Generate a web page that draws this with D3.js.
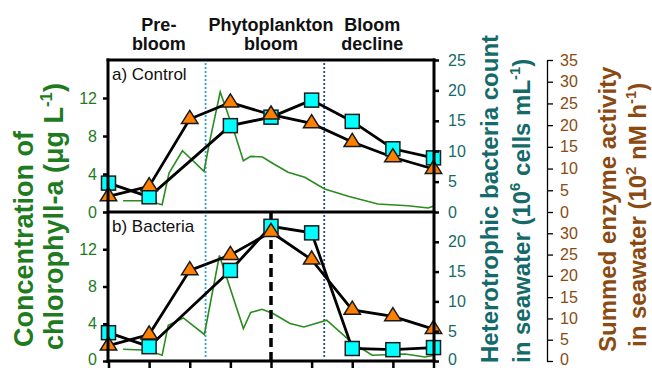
<!DOCTYPE html>
<html><head><meta charset="utf-8">
<script src="https://cdn.jsdelivr.net/npm/d3@7"></script>
<style>body{margin:0;background:#fff}svg{display:block;font-family:"Liberation Sans",Arial,sans-serif}</style>
</head><body><svg id="c" width="652" height="368"></svg>
<script>
// ---- data ----
const samples = [1, 2, 3, 4, 5, 6, 7, 8, 9];
const bacteriaControl = [4.75, 2.5, null, 14.2, 15.6, 18.4, 14.9, 10.4, 8.9];
const enzymeControl   = [3.6, 5.9, 21.4, 25.2, 22.4, 20.4, 16.1, 12.6, 9.9];
const bacteriaAdded   = [4.75, 2.4, null, 15.2, 22.6, 21.5, 2.1, 1.9, 2.25];
const enzymeAdded     = [3.6, 6.2, 21.3, 24.9, 30.3, 23.8, 12.0, 10.5, 7.5];
const chlTimeControl = [1.36, 1.96, 2.32, 2.49, 2.82, 3.35, 3.50, 3.75, 4.09, 4.32, 4.50, 4.79, 5.07, 5.42, 5.83, 6.32, 6.90, 7.63, 8.37, 8.87, 8.99];
const chlControl     = [1.19, 1.19, 0.77, 4.1, 6.45, 4.28, 7.61, 12.63, 8.49, 5.4, 5.86, 5.79, 5.05, 4.18, 3.65, 2.42, 1.65, 0.84, 0.66, 0.42, 0.6];
const chlTimeAdded = [1.36, 1.96, 2.32, 2.47, 2.84, 3.36, 3.73, 4.32, 4.50, 4.78, 5.05, 5.47, 5.81, 6.37, 6.98, 7.49, 8.30, 8.79, 9.0];
const chlAdded     = [1.26, 1.15, 0.61, 3.83, 4.62, 2.85, 11.33, 3.49, 5.21, 5.55, 5.10, 4.03, 3.65, 4.38, 2.04, 0.62, 0.75, 0.43, 0.59];
const phaseNames = [["Pre-", "bloom"], ["Phytoplankton", "bloom"], ["Bloom", "decline"]];
const phaseCenters = [2.24, 5.0, 7.49];
const phaseBounds = [3.39, 6.31];
const peakSample = 5;
const panelNames = ["a) Control", "b) Bacteria"];
const chlTicks = [0, 4, 8, 12];
const bacTicksA = [0, 5, 10, 15, 20, 25];
const bacTicksB = [0, 5, 10, 15, 20];
const enzTicksA = [0, 5, 10, 15, 20, 25, 30, 35];
const enzTicksB = [0, 5, 10, 15, 20, 25, 30];

// ---- styles ----
const GREEN = "#1e7b1e", TEAL = "#146a6a", BROWN = "#8a4a12";
const LINEGREEN = "#2a8c1f";
const svg = d3.select("#c");

const x = d3.scaleLinear().domain([1, 9]).range([108.5, 433.5]);
const X0 = 108, X1 = 434;
const panels = [
  {top: 60, bottom: 212, bac: bacteriaControl, enz: enzymeControl, ct: chlTimeControl, cv: chlControl, bt: bacTicksA, et: enzTicksA},
  {top: 212, bottom: 361, bac: bacteriaAdded, enz: enzymeAdded, ct: chlTimeAdded, cv: chlAdded, bt: bacTicksB, et: enzTicksB}
];

function styleLabels(sel, color, lastPanel) {
  sel.selectAll("text").attr("fill", color).style("font-size", "16px")
    .style("font-family", "Liberation Sans, Arial, sans-serif")
    .attr("dy", d => (lastPanel && d === 0) ? "0.2em" : "0.32em");
}

panels.forEach((p, pi) => {
  const yC = d3.scaleLinear().domain([0, 16]).range([p.bottom, p.top]);
  const yB = d3.scaleLinear().domain([0, 25]).range([p.bottom, p.top]);
  const yE = d3.scaleLinear().domain([0, 35]).range([p.bottom, p.top]);
  const g = svg.append("g");

  // phase boundaries
  phaseBounds.forEach((b, bi) => {
    g.append("line").attr("x1", x(b)).attr("x2", x(b))
      .attr("y1", p.top + 3).attr("y2", p.bottom - 3)
      .attr("stroke", bi === 0 ? "#2a9fd6" : "#1f4f8f")
      .attr("stroke-width", 1.8).attr("stroke-dasharray", "2,2");
  });

  // chlorophyll line
  const chlPts = p.ct.map((t, i) => [t, p.cv[i]]);
  g.append("path").datum(chlPts)
    .attr("d", d3.line().x(d => x(d[0])).y(d => yC(d[1])))
    .attr("fill", "none").attr("stroke", LINEGREEN).attr("stroke-width", 1.6);

  // peak dashed line (panel b)
  if (pi === 1) {
    g.append("line").attr("x1", x(peakSample)).attr("x2", x(peakSample))
      .attr("y1", p.top).attr("y2", p.bottom)
      .attr("stroke", "#000").attr("stroke-width", 3.5).attr("stroke-dasharray", "9,5");
  }

  const bacPts = samples.map((s, i) => [s, p.bac[i]]).filter(d => d[1] != null);
  const enzPts = samples.map((s, i) => [s, p.enz[i]]);
  g.append("path").datum(bacPts)
    .attr("d", d3.line().x(d => x(d[0])).y(d => yB(d[1])))
    .attr("fill", "none").attr("stroke", "#000").attr("stroke-width", 2.8);
  g.append("path").datum(enzPts)
    .attr("d", d3.line().x(d => x(d[0])).y(d => yE(d[1])))
    .attr("fill", "none").attr("stroke", "#000").attr("stroke-width", 2.8);

  g.selectAll(".sq").data(bacPts).enter().append("rect")
    .attr("x", d => x(d[0]) - 7).attr("y", d => yB(d[1]) - 7)
    .attr("width", 14).attr("height", 14)
    .attr("fill", "#00ffff").attr("stroke", "#1a1a1a").attr("stroke-width", 1.5);
  g.selectAll(".tri").data(enzPts).enter().append("path")
    .attr("d", d => {
      const cx = x(d[0]), cy = yE(d[1]);
      return `M${cx},${cy - 8.7}L${cx + 8.2},${cy + 4.4}L${cx - 8.2},${cy + 4.4}Z`;
    })
    .attr("fill", "#ff7f00").attr("stroke", "#1a1a1a").attr("stroke-width", 1.5);

  // axes
  const last = pi === 1;
  const ax = svg.append("g").attr("transform", `translate(${X0},0)`)
    .call(d3.axisLeft(yC).tickValues(chlTicks).tickSize(5).tickSizeOuter(0).tickPadding(6));
  ax.select(".domain").remove();
  ax.selectAll("line").attr("stroke", "#000").attr("stroke-width", 2.5);
  styleLabels(ax, GREEN, last);

  const bx = svg.append("g").attr("transform", `translate(${X1},0)`)
    .call(d3.axisRight(yB).tickValues(p.bt).tickSize(5).tickSizeOuter(0).tickPadding(9));
  bx.select(".domain").remove();
  bx.selectAll("line").attr("stroke", "#000").attr("stroke-width", 2.5);
  styleLabels(bx, TEAL, last);

  const ex = svg.append("g").attr("transform", `translate(547,0)`)
    .call(d3.axisRight(yE).tickValues(p.et).tickSize(6).tickSizeOuter(0).tickPadding(7));
  ex.select(".domain").attr("stroke", "#000").attr("stroke-width", 1.3);
  ex.selectAll("line").attr("stroke", "#000").attr("stroke-width", 1.3);
  styleLabels(ex, BROWN, last);

  svg.append("text").attr("x", 112).attr("y", p.top + 20)
    .style("font-size", "17px").attr("fill", "#111").text(panelNames[pi]);
});

// bottom axis
const bxAxis = svg.append("g").attr("transform", "translate(0,361)")
  .call(d3.axisBottom(x).tickValues(samples).tickFormat("").tickSize(7).tickSizeOuter(0));
bxAxis.select(".domain").remove();
bxAxis.selectAll("text").remove();
bxAxis.selectAll("line").attr("stroke", "#000").attr("stroke-width", 2.5);

// frame
const frame = svg.append("g").attr("stroke", "#000").attr("stroke-width", 3).attr("stroke-linecap", "square");
[[X0, 60, X1, 60], [X0, 212, X1, 212], [X0, 361, X1, 361], [X0, 60, X0, 361], [X1, 60, X1, 361]]
  .forEach(l => frame.append("line").attr("x1", l[0]).attr("y1", l[1]).attr("x2", l[2]).attr("y2", l[3]));

// phase labels
phaseNames.forEach((lines, i) => {
  lines.forEach((t, j) => {
    svg.append("text").attr("x", x(phaseCenters[i])).attr("y", 31 + j * 19)
      .attr("text-anchor", "middle").style("font-size", "18px").style("font-weight", "bold")
      .attr("fill", "#111").text(t);
  });
});

// axis titles
function title(xb, yb, size, color, parts) {
  const t = svg.append("text").attr("transform", `translate(${xb},${yb}) rotate(-90)`)
    .attr("text-anchor", "start").style("font-size", size + "px").style("font-weight", "bold").attr("fill", color);
  let pending = 0;
  parts.forEach(pt => {
    if (typeof pt === "string") {
      const s = t.append("tspan").text(pt);
      if (pending) { s.attr("dy", pending); pending = 0; }
    } else {
      t.append("tspan").attr("dy", -size * 0.42).style("font-size", (size * 0.62) + "px").text(pt.sup);
      pending = size * 0.42;
    }
  });
}
title(33, 347, 27, GREEN, ["Concentration of"]);
title(63, 350, 27, GREEN, ["chlorophyll-a (\u03bcg L", {sup: "-1"}, ")"]);
title(498, 363, 24, TEAL, ["Heterotrophic bacteria count"]);
title(530, 363, 24, TEAL, ["in seawater (10", {sup: "6"}, " cells mL", {sup: "-1"}, ")"]);
title(616, 352, 24, BROWN, ["Summed enzyme activity"]);
title(646, 347, 24, BROWN, ["in seawater (10", {sup: "2"}, " nM h", {sup: "-1"}, ")"]);
</script>
</body></html>
